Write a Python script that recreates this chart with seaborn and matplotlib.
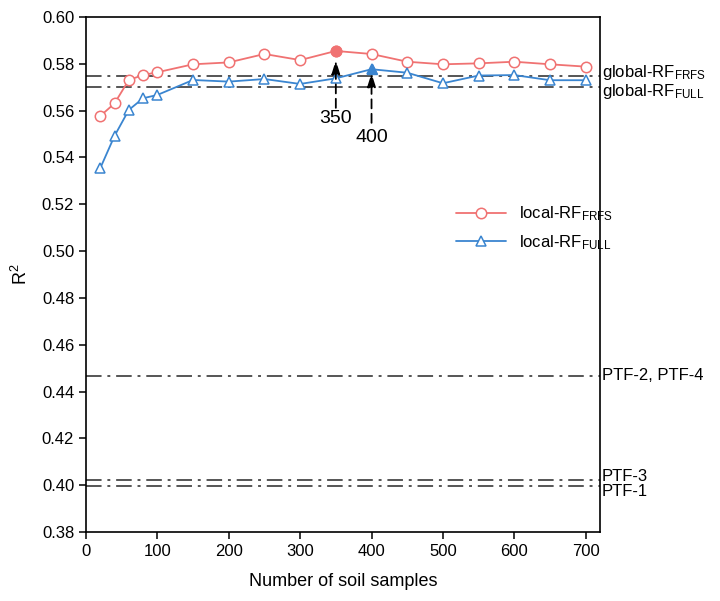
import numpy as np
import pandas as pd
import seaborn as sns
import matplotlib.pyplot as plt
import matplotlib.transforms as mtransforms

# data
n_samples = [20, 40, 60, 80, 100, 150, 200, 250, 300, 350, 400, 450, 500, 550, 600, 650, 700]
r2_frfs = [0.5577, 0.5631, 0.5731, 0.5752, 0.5764, 0.5798, 0.5806, 0.5842, 0.5816, 0.5855,
           0.5842, 0.5809, 0.5798, 0.5802, 0.5809, 0.5798, 0.5788]
r2_full = [0.5354, 0.5492, 0.5603, 0.5653, 0.5667, 0.5731, 0.5724, 0.5735, 0.5714, 0.5738,
           0.5777, 0.5762, 0.5717, 0.5750, 0.5752, 0.5730, 0.5730]

ref_names = [r'global-RF$_{\mathrm{FRFS}}$', r'global-RF$_{\mathrm{FULL}}$',
             'PTF-2, PTF-4', 'PTF-3', 'PTF-1']
ref_values = [0.5747, 0.5702, 0.4467, 0.4022, 0.3997]
ref_label_y = [0.5761, 0.5680, 0.4467, 0.4036, 0.3974]

best_n = [350, 400]

red = '#F07272'
blue = '#3A85D0'

sns.set_style("ticks")
plt.rcParams['font.family'] = ['Liberation Sans', 'DejaVu Sans']
plt.rcParams['mathtext.fontset'] = 'custom'
plt.rcParams['mathtext.rm'] = 'Liberation Sans'
plt.rcParams['mathtext.it'] = 'Liberation Sans:italic'
plt.rcParams['text.color'] = 'black'
plt.rcParams['axes.labelcolor'] = 'black'

fig = plt.figure(figsize=(7.2, 6.01), dpi=100)
ax = fig.add_axes([0.1194, 0.1148, 0.7139, 0.8569])

df = pd.DataFrame({'n': n_samples + n_samples,
                   'r2': r2_frfs + r2_full,
                   'model': ['FRFS'] * len(n_samples) + ['FULL'] * len(n_samples)})

# reference lines
trans = mtransforms.blended_transform_factory(ax.transAxes, ax.transData)
for name, v, ly in zip(ref_names, ref_values, ref_label_y):
    ax.axhline(v, color='#555555', lw=1.4, ls=(0, (8, 3, 1.5, 3)), zorder=1)
    ax.text(1.003, ly, name, transform=trans, ha='left', va='center', fontsize=12)

sns.lineplot(data=df[df['model'] == 'FRFS'], x='n', y='r2', color=red, lw=1.3,
             marker='o', markersize=7.5, markerfacecolor='white', markeredgecolor=red,
             markeredgewidth=1.1, label='local-RF$_{\\mathrm{FRFS}}$', ax=ax, zorder=3)
sns.lineplot(data=df[df['model'] == 'FULL'], x='n', y='r2', color=blue, lw=1.3,
             marker='^', markersize=7.5, markerfacecolor='white', markeredgecolor=blue,
             markeredgewidth=1.1, label='local-RF$_{\\mathrm{FULL}}$', ax=ax, zorder=3)

# highlight the best points
i1 = n_samples.index(best_n[0])
i2 = n_samples.index(best_n[1])
ax.plot(best_n[0], r2_frfs[i1], 'o', color=red, markersize=7.5, zorder=4)
ax.plot(best_n[1], r2_full[i2], '^', color=blue, markersize=7.5, zorder=4)

ax.annotate('', xy=(best_n[0], r2_frfs[i1] - 0.004), xytext=(best_n[0], 0.5612),
            arrowprops=dict(arrowstyle='-|>,head_length=0.8,head_width=0.25', color='black',
                            lw=1.3, ls=(0, (5, 3)), shrinkA=0, shrinkB=0), zorder=5)
ax.text(best_n[0], 0.5566, str(best_n[0]), ha='center', va='center', fontsize=14)
ax.annotate('', xy=(best_n[1], r2_full[i2] - 0.0017), xytext=(best_n[1], 0.5548),
            arrowprops=dict(arrowstyle='-|>,head_length=0.8,head_width=0.25', color='black',
                            lw=1.3, ls=(0, (5, 3)), shrinkA=0, shrinkB=0), zorder=5)
ax.text(best_n[1], 0.5487, str(best_n[1]), ha='center', va='center', fontsize=14)

ax.set_xlim(0, 720)
ax.set_ylim(0.38, 0.60)
ax.set_xticks(np.arange(0, 701, 100))
ax.set_yticks(np.arange(0.38, 0.601, 0.02))
ax.yaxis.set_major_formatter(plt.FormatStrFormatter('%.2f'))
ax.tick_params(labelsize=12, direction='out', length=5, width=1.1, colors='black')
for s in ax.spines.values():
    s.set_visible(True)
    s.set_linewidth(1.2)
    s.set_color('black')
ax.set_xlabel('Number of soil samples', fontsize=13, labelpad=10)
ax.set_ylabel('R$^2$', fontsize=13, labelpad=8)

leg = ax.legend(loc='upper left', bbox_to_anchor=(0.69, 0.665), frameon=False, fontsize=12,
                handlelength=3, labelspacing=0.6)

fig.savefig('out.png', dpi=100)
